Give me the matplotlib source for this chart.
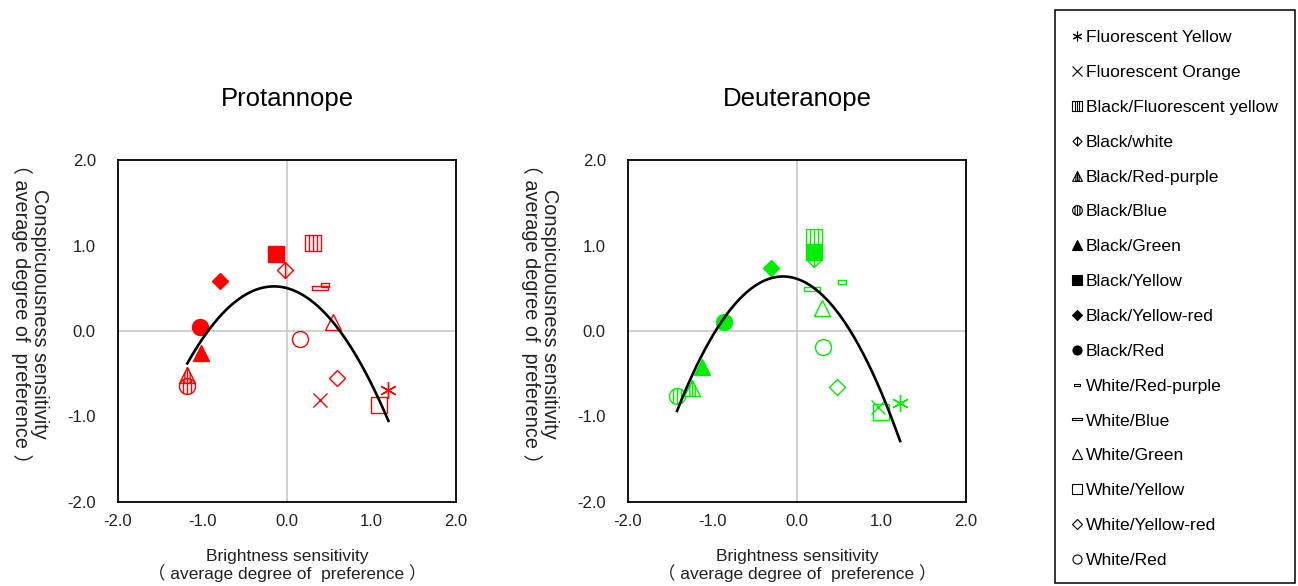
import numpy as np
import matplotlib
matplotlib.use("Agg")
import matplotlib.pyplot as plt
from matplotlib.path import Path
from matplotlib.lines import Line2D
from matplotlib.patches import Rectangle

plt.rcParams["font.family"] = ["Liberation Sans", "Noto Sans CJK JP", "DejaVu Sans"]

# ---- data ----
labels = ["Fluorescent Yellow", "Fluorescent Orange", "Black/Fluorescent yellow",
          "Black/white", "Black/Red-purple", "Black/Blue", "Black/Green",
          "Black/Yellow", "Black/Yellow-red", "Black/Red", "White/Red-purple",
          "White/Blue", "White/Green", "White/Yellow", "White/Yellow-red", "White/Red"]

protan_x = [1.20, 0.39, 0.31, -0.02, -1.18, -1.18, -1.02, -0.13, -0.79, -1.03,
            0.45, 0.39, 0.54, 1.09, 0.59, 0.15]
protan_y = [-0.69, -0.81, 1.03, 0.71, -0.51, -0.64, -0.26, 0.90, 0.59, 0.05,
            0.54, 0.50, 0.11, -0.87, -0.55, -0.09]

deuter_x = [1.22, 0.96, 0.20, 0.20, -1.24, -1.42, -1.12, 0.20, -0.31, -0.86,
            0.53, 0.18, 0.30, 0.99, 0.47, 0.31]
deuter_y = [-0.84, -0.89, 1.10, 0.84, -0.67, -0.76, -0.42, 0.92, 0.74, 0.11,
            0.57, 0.49, 0.27, -0.95, -0.65, -0.19]

ticks = [-2.0, -1.0, 0.0, 1.0, 2.0]


# ---- custom hatched markers ----
def mk_path(outline, lines):
    verts, codes = [], []
    for i, p in enumerate(outline):
        verts.append(p)
        codes.append(Path.MOVETO if i == 0 else Path.LINETO)
    verts.append(outline[0]); codes.append(Path.CLOSEPOLY)
    for a, b in lines:
        verts += [a, b]; codes += [Path.MOVETO, Path.LINETO]
    return Path(verts, codes)

sq_hatch = mk_path([(-1, -1), (1, -1), (1, 1), (-1, 1)],
                   [((v, -1), (v, 1)) for v in (-0.5, 0, 0.5)])
dia_line = mk_path([(0, 1), (1, 0), (0, -1), (-1, 0)], [((0, -1), (0, 1))])
tri_hatch = mk_path([(0, 1), (-1, -1), (1, -1)],
                    [((v, -1), (v, 1 - 2 * abs(v))) for v in (-0.33, 0, 0.33)])
th = np.linspace(0, 2 * np.pi, 41)[:-1]
circ_hatch = mk_path(list(zip(np.cos(th), np.sin(th))),
                     [((v, -np.sqrt(1 - v * v)), (v, np.sqrt(1 - v * v))) for v in (-0.5, 0, 0.5)])
rect_small = mk_path([(-1, -0.45), (1, -0.45), (1, 0.45), (-1, 0.45)], [])
rect_long = mk_path([(-1, -0.22), (1, -0.22), (1, 0.22), (-1, 0.22)], [])

# marker, filled, size on chart, size in legend
styles = [((6, 2, 0), False, 12, 7), ("x", False, 10.5, 6.5), (sq_hatch, False, 11.5, 6.5),
          (dia_line, False, 11.5, 6.5), (tri_hatch, False, 11.5, 7), (circ_hatch, False, 11.5, 7),
          ("^", True, 11.5, 7), ("s", True, 11.5, 6.5), ("D", True, 8.4, 4.6),
          ("o", True, 11.5, 6.5), (rect_small, False, 6, 4.5), (rect_long, False, 11.5, 6.5),
          ("^", False, 11.5, 7), ("s", False, 11.5, 6.5), ("D", False, 8.4, 4.6),
          ("o", False, 11.5, 6.5)]

fig = plt.figure(figsize=(12.98, 5.86), dpi=100)
W, H = 1298, 586


def panel(left_px, xs, ys, color, title):
    ax = fig.add_axes([left_px / W, 1 - 502 / H, 338 / W, 342 / H])
    ax.set_xlim(-2, 2); ax.set_ylim(-2, 2)
    ax.axhline(0, color="#c8c8c8", lw=1.2, zorder=0)
    ax.axvline(0, color="#c8c8c8", lw=1.2, zorder=0)
    for (m, filled, ms, _), x, y in zip(styles, xs, ys):
        ax.plot([x], [y], ls="none", marker=m, ms=ms, mec=color,
                mfc=color if filled else "none", mew=1.0, clip_on=False, zorder=3)
    # 2nd-order trend line, like the spreadsheet fit
    c = np.polyfit(xs, ys, 2)
    xx = np.linspace(min(xs), max(xs), 200)
    ax.plot(xx, np.polyval(c, xx), color="black", lw=1.9, zorder=4)
    ax.set_xticks(ticks); ax.set_yticks(ticks)
    ax.set_xticklabels([f"{t:.1f}" for t in ticks])
    ax.set_yticklabels([f"{t:.1f}" for t in ticks])
    ax.tick_params(length=0, labelsize=12, colors="#222222")
    ax.tick_params(axis="x", pad=9)
    ax.tick_params(axis="y", pad=16)
    for s in ax.spines.values():
        s.set_linewidth(1.3)
    ax.text(0.5, 1 + 61 / 342, title, transform=ax.transAxes, ha="center", va="center",
            fontsize=18.5)
    ax.text(0.5, -47 / 342, "Brightness sensitivity\n（ average degree of  preference ）",
            transform=ax.transAxes, ha="center", va="top", fontsize=12.5, linespacing=0.98,
            color="#222222")
    ax.text(-88 / 338, 0.55, "Conspicuousness sensitivity\n（ average degree of  preference ）",
            transform=ax.transAxes, ha="center", va="center", rotation=-90, fontsize=14.3,
            linespacing=0.85, color="#222222")
    return ax


panel(118, protan_x, protan_y, "#ff0000", "Protannope")
panel(628, deuter_x, deuter_y, "#00ee00", "Deuteranope")

# legend box drawn separately so the frame matches the original exactly
fig.add_artist(Rectangle((1055 / W, 1 - 583 / H), 240 / W, 573 / H, transform=fig.transFigure,
                         fill=False, ec="black", lw=1.1))
handles = [Line2D([], [], ls="none", marker=m, ms=lms, mec="black",
                  mfc="black" if filled else "none", mew=0.8)
           for (m, filled, _, lms) in styles]
fig.legend(handles, labels, loc="upper left", bbox_to_anchor=(1070 / W, 1 - 30 / H),
           borderaxespad=0, borderpad=0, frameon=False, fontsize=12.6, handlelength=0.8,
           handletextpad=0.1, labelspacing=1.12)

fig.savefig("out.png", dpi=100)
